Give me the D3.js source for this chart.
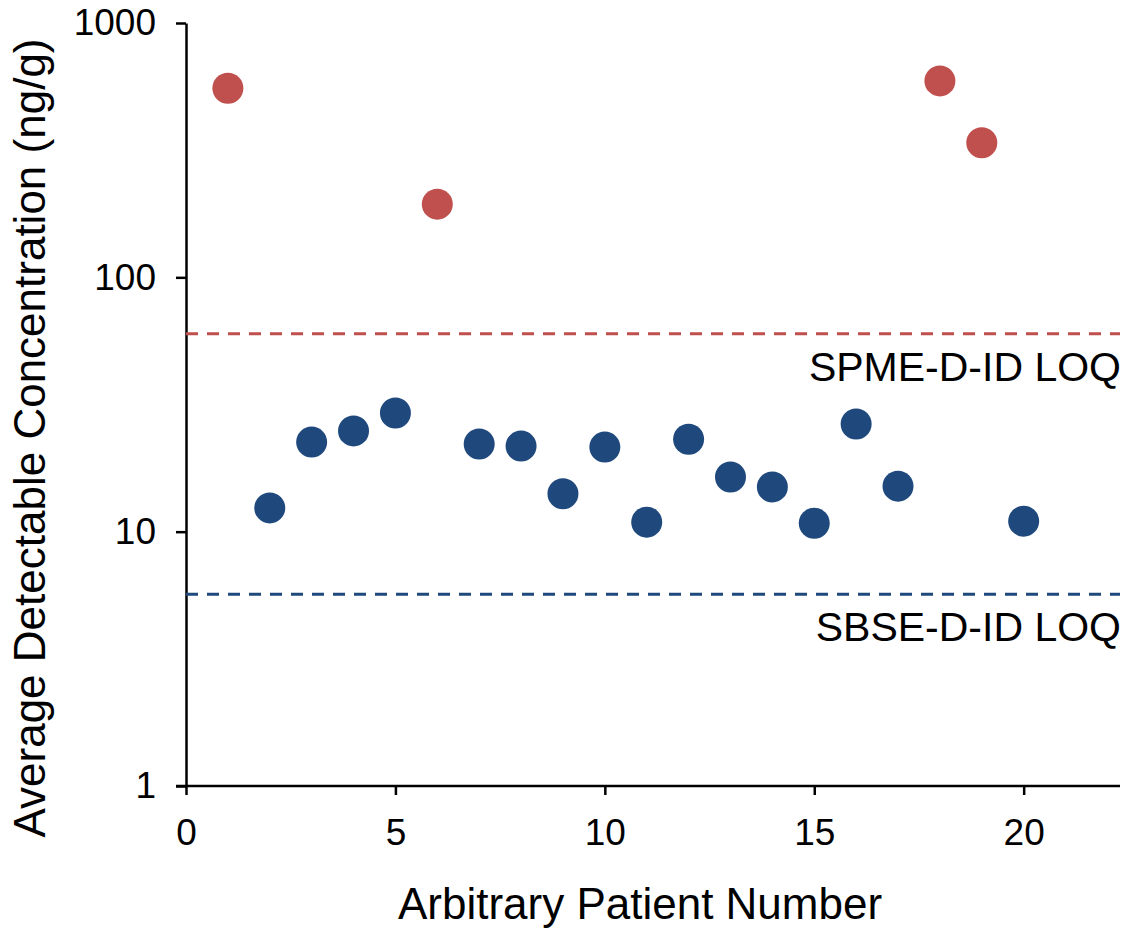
<!DOCTYPE html>
<html>
<head>
<meta charset="utf-8">
<script src="https://cdn.jsdelivr.net/npm/d3@7"></script>
<style>
  html, body { margin: 0; padding: 0; background: #fff; }
  svg { display: block; font-family: Helvetica, Arial, "Liberation Sans", sans-serif; }
</style>
</head>
<body>
<svg id="chart" width="1139" height="930"></svg>
<script>
// Patients whose concentration was above the SPME-D-ID limit of quantitation
const spmePatients = [1, 6, 18, 19];
const spmeValues   = [554, 194, 592, 338];

// Patients quantified only by SBSE-D-ID
const sbsePatients = [2, 3, 4, 5, 7, 8, 9, 10, 11, 12, 13, 14, 15, 16, 17, 20];
const sbseValues   = [12.4, 22.5, 24.9, 29.3, 22.1, 21.7, 14.1, 21.5, 10.9, 23.1, 16.4, 15.0, 10.8, 26.5, 15.1, 11.0];

// Limits of quantitation
const loqNames  = ["SPME-D-ID LOQ", "SBSE-D-ID LOQ"];
const loqValues = [60, 5.67];

const xTicks = [0, 5, 10, 15, 20];
const yTicks = [1, 10, 100, 1000];

const red  = "#c0504d";
const blue = "#1f497d";

const svg = d3.select("#chart");
const plotLeft = 186, plotRight = 1120, plotTop = 23, plotBottom = 786;

const x = d3.scaleLinear().domain([0, 22.3]).range([plotLeft, plotRight]);
const y = d3.scaleLog().domain([1, 1000]).range([plotBottom, plotTop]);

// Axes
const xAxis = d3.axisBottom(x).tickValues(xTicks).tickSize(9).tickSizeOuter(0).tickPadding(24);
const yAxis = d3.axisLeft(y).tickValues(yTicks).tickFormat(d3.format("d")).tickSize(10).tickSizeOuter(0).tickPadding(20);

const gx = svg.append("g").attr("transform", `translate(0,${plotBottom})`).call(xAxis);
const gy = svg.append("g").attr("transform", `translate(${plotLeft},0)`).call(yAxis);

[gx, gy].forEach(g => {
  g.select(".domain").attr("stroke", "#000").attr("stroke-width", 2.5);
  g.selectAll(".tick line").attr("stroke", "#000").attr("stroke-width", 2.5);
  g.selectAll(".tick text").attr("fill", "#000").attr("font-size", 37)
    .attr("font-family", "Helvetica, Arial, 'Liberation Sans', sans-serif");
});
// extend x baseline left to meet the y tick at 1
gx.select(".domain").attr("d", `M${plotLeft - 10},0H${plotRight}`);

// LOQ dashed lines
const loqColors = [red, blue];
svg.append("g").selectAll("line")
  .data(loqValues)
  .join("line")
  .attr("x1", plotLeft).attr("x2", plotRight)
  .attr("y1", d => y(d)).attr("y2", d => y(d))
  .attr("stroke", (d, i) => loqColors[i])
  .attr("stroke-width", 3)
  .attr("stroke-dasharray", "12,9");

svg.append("g").selectAll("text")
  .data(loqValues)
  .join("text")
  .attr("x", plotRight + 1)
  .attr("y", d => y(d) + 47)
  .attr("text-anchor", "end")
  .attr("font-size", 41)
  .attr("fill", "#000")
  .text((d, i) => loqNames[i]);

// Points
svg.append("g").selectAll("circle")
  .data(sbsePatients.map((p, i) => [p, sbseValues[i]]))
  .join("circle")
  .attr("cx", d => x(d[0])).attr("cy", d => y(d[1]))
  .attr("r", 15.5).attr("fill", blue);

svg.append("g").selectAll("circle")
  .data(spmePatients.map((p, i) => [p, spmeValues[i]]))
  .join("circle")
  .attr("cx", d => x(d[0])).attr("cy", d => y(d[1]))
  .attr("r", 15.5).attr("fill", red);

// Axis titles
svg.append("text")
  .attr("x", (plotLeft + plotRight) / 2 - 13)
  .attr("y", 919)
  .attr("text-anchor", "middle")
  .attr("font-size", 44)
  .attr("fill", "#000")
  .text("Arbitrary Patient Number");

svg.append("text")
  .attr("transform", "translate(45,438) rotate(-90)")
  .attr("text-anchor", "middle")
  .attr("font-size", 44)
  .attr("fill", "#000")
  .text("Average Detectable Concentration (ng/g)");
</script>
</body>
</html>
